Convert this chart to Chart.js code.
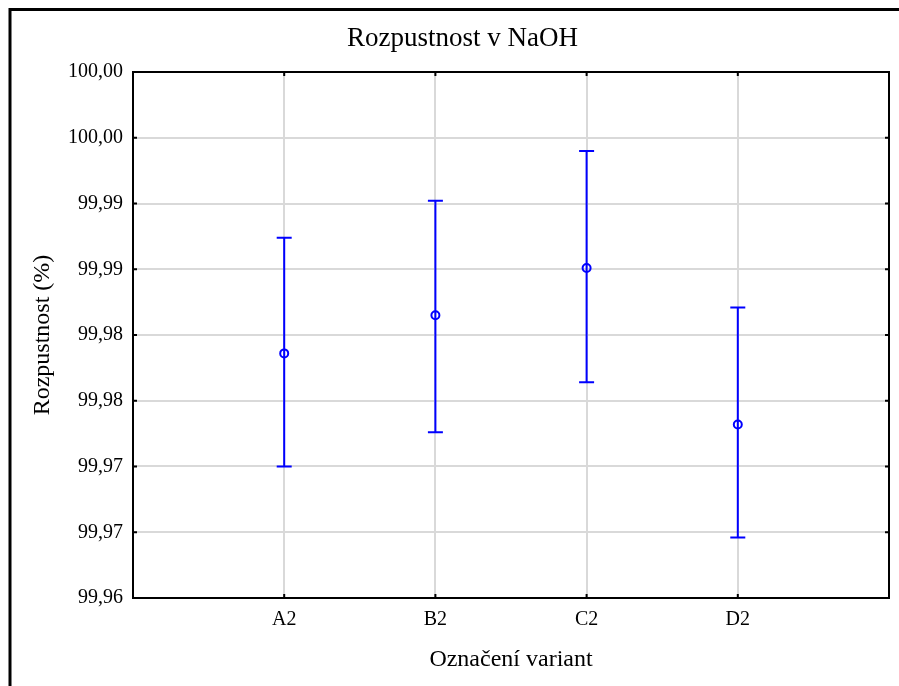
<!DOCTYPE html>
<html>
<head>
<meta charset="utf-8">
<script src="https://cdn.jsdelivr.net/npm/chart.js@4/dist/chart.umd.min.js"></script>
<style>
  html, body { margin: 0; padding: 0; background: #fff; }
  #wrap { position: absolute; left: 0; top: 0; width: 899px; height: 686px; }
</style>
</head>
<body>
<div id="wrap"><canvas id="c" width="899" height="686"></canvas></div>
<script>
// ---- data ----
const categories = ['A2', 'B2', 'C2', 'D2'];
const meanValues = [99.9786, 99.9815, 99.9851, 99.9732];
const upperValues = [99.9874, 99.9902, 99.9940, 99.9821];
const lowerValues = [99.9700, 99.9726, 99.9764, 99.9646];
const yTickLabels = ['99,96', '99,97', '99,97', '99,98', '99,98', '99,99', '99,99', '100,00', '100,00'];

const FONT = '"Liberation Serif", "Times New Roman", serif';
const BLUE = '#0000ff';

const points = categories.map((c, i) => ({ x: i + 1, y: meanValues[i] }));

const framePlugin = {
  id: 'frame',
  beforeDraw(chart) {
    const ctx = chart.ctx;
    ctx.save();
    ctx.fillStyle = '#fff';
    ctx.fillRect(0, 0, chart.width, chart.height);
    ctx.strokeStyle = '#000';
    ctx.lineWidth = 3;
    ctx.strokeRect(10, 9.5, chart.width + 20, chart.height + 20);
    ctx.restore();
  },
  afterDraw(chart) {
    const { ctx, chartArea: a, scales } = chart;
    ctx.save();
    ctx.strokeStyle = '#000';
    ctx.lineWidth = 2;
    ctx.strokeRect(a.left, a.top, a.right - a.left, a.bottom - a.top);
    ctx.beginPath();
    scales.y.ticks.forEach(t => {
      const y = scales.y.getPixelForValue(t.value);
      ctx.moveTo(a.left, y); ctx.lineTo(a.left + 4, y);
      ctx.moveTo(a.right, y); ctx.lineTo(a.right - 4, y);
    });
    categories.forEach((c, i) => {
      const x = scales.x.getPixelForValue(i + 1);
      ctx.moveTo(x, a.top); ctx.lineTo(x, a.top + 4);
      ctx.moveTo(x, a.bottom); ctx.lineTo(x, a.bottom - 4);
    });
    ctx.stroke();
    ctx.restore();
  }
};

const errorBarPlugin = {
  id: 'errorBars',
  beforeDatasetsDraw(chart) {
    const { ctx, scales } = chart;
    ctx.save();
    ctx.strokeStyle = BLUE;
    ctx.lineWidth = 2;
    ctx.beginPath();
    categories.forEach((c, i) => {
      const x = scales.x.getPixelForValue(i + 1);
      const yt = scales.y.getPixelForValue(upperValues[i]);
      const yb = scales.y.getPixelForValue(lowerValues[i]);
      ctx.moveTo(x, yt); ctx.lineTo(x, yb);
      ctx.moveTo(x - 7.5, yt); ctx.lineTo(x + 7.5, yt);
      ctx.moveTo(x - 7.5, yb); ctx.lineTo(x + 7.5, yb);
    });
    ctx.stroke();
    ctx.restore();
  }
};

new Chart(document.getElementById('c'), {
  type: 'scatter',
  data: {
    datasets: [{
      data: points,
      showLine: false,
      pointStyle: 'circle',
      pointRadius: 4,
      pointHoverRadius: 4,
      pointBorderWidth: 2,
      pointBorderColor: BLUE,
      pointBackgroundColor: 'rgba(0,0,0,0)'
    }]
  },
  options: {
    responsive: false,
    animation: false,
    events: [],
    layout: { padding: { left: 36, right: 10, top: 0, bottom: 0 } },
    plugins: {
      legend: { display: false },
      tooltip: { enabled: false },
      title: {
        display: true,
        text: 'Rozpustnost v NaOH',
        color: '#000',
        font: { family: FONT, size: 27, weight: 'normal' },
        padding: { top: 23, bottom: 16.6 }
      }
    },
    scales: {
      x: {
        type: 'linear',
        min: 0,
        max: 5,
        afterBuildTicks(scale) {
          scale.ticks = [0, 1, 2, 3, 4, 5].map(v => ({ value: v }));
        },
        afterFit(scale) { scale.height = 88; },
        grid: { color: '#d9d9d9', lineWidth: 2, drawTicks: false },
        border: { display: false },
        ticks: {
          padding: 10,
          color: '#000',
          font: { family: FONT, size: 20 },
          maxRotation: 0,
          autoSkip: false,
          callback: (v) => (v >= 1 && v <= categories.length) ? categories[v - 1] : ''
        },
        title: {
          display: true,
          text: 'Označení variant',
          color: '#000',
          font: { family: FONT, size: 24 },
          padding: { top: 0, bottom: 11.6 }
        }
      },
      y: {
        min: 99.96,
        max: 100.0,
        afterBuildTicks(scale) {
          scale.ticks = yTickLabels.map((l, i) => ({ value: 99.96 + i * 0.005 }));
        },
        afterFit(scale) { scale.width = 97; },
        grid: { color: '#d9d9d9', lineWidth: 2, drawTicks: false },
        border: { display: false },
        ticks: {
          padding: 10,
          color: '#000',
          font: { family: FONT, size: 20 },
          autoSkip: false,
          callback: (v, i) => yTickLabels[i]
        },
        title: {
          display: true,
          text: 'Rozpustnost (%)',
          color: '#000',
          font: { family: FONT, size: 24 },
          padding: { top: -8, bottom: 0 }
        }
      }
    }
  },
  plugins: [framePlugin, errorBarPlugin]
});
</script>
</body>
</html>
